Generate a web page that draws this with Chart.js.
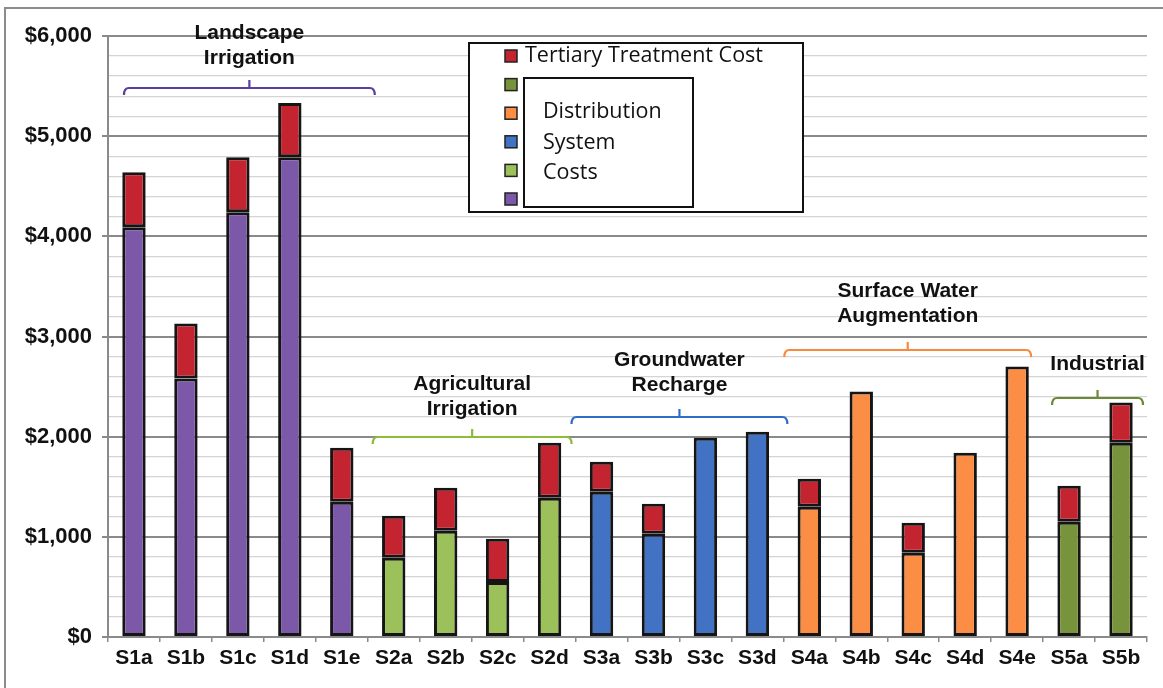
<!DOCTYPE html>
<html>
<head>
<meta charset="utf-8">
<script src="https://cdn.jsdelivr.net/npm/chart.js@4"></script>
<style>
  html, body { margin: 0; padding: 0; background: #fff; }
  #wrap { width: 1163px; height: 688px; position: relative; }
</style>
</head>
<body>
<div id="wrap"><canvas id="costChart" width="1163" height="688"></canvas></div>
<script>
// Scenario cost breakdown ($ per acre-foot)
const scenarios = ['S1a', 'S1b', 'S1c', 'S1d', 'S1e', 'S2a', 'S2b', 'S2c', 'S2d',
                   'S3a', 'S3b', 'S3c', 'S3d', 'S4a', 'S4b', 'S4c', 'S4d', 'S4e', 'S5a', 'S5b'];
const distributionCost = [4090, 2580, 4240, 4790, 1350, 790, 1060, 550, 1390,
                          1450, 1030, 1990, 2050, 1300, 2450, 840, 1840, 2700, 1150, 1940];
const tertiaryCost = [550, 550, 550, 540, 540, 420, 430, 430, 550,
                      300, 300, null, null, 280, null, 300, null, null, 360, 400];
const yTicks = [0, 1000, 2000, 3000, 4000, 5000, 6000];

// End use groups: label lines, first and last scenario index
const groupNames = [['Landscape', 'Irrigation'], ['Agricultural', 'Irrigation'],
                    ['Groundwater', 'Recharge'], ['Surface Water', 'Augmentation'], ['Industrial']];
const groupStart = [0, 5, 9, 13, 18];
const groupEnd = [4, 8, 12, 17, 19];

const legendLabels = ['Tertiary Treatment Cost', 'Distribution', 'System', 'Costs'];

const COLORS = {
  red: '#c42330',
  purple: '#7b58a8',
  green: '#9cc05a',
  blue: '#4172c4',
  orange: '#fb8d44',
  olive: '#77933c'
};
const groupColors = [COLORS.purple, COLORS.green, COLORS.blue, COLORS.orange, COLORS.olive];
const groupBracket = ['#5b3fa0', '#8dbb3a', '#2f6cc8', '#f98a3c', '#6b8a34'];

const barColors = scenarios.map((s, i) => {
  const g = groupStart.findIndex((st, k) => i >= st && i <= groupEnd[k]);
  return groupColors[g];
});

// bracket geometry (pixels): left/right offset from first/last bar centre, bracket y, label first line y
const bracketLayout = [
  { l: -10, r: 33, y: 88, ty: 33 },
  { l: -21, r: 22, y: 437, ty: 384 },
  { l: -30, r: 30, y: 417, ty: 360 },
  { l: -25, r: 14, y: 350, ty: 291 },
  { l: -17, r: 22, y: 398, ty: 364 }
];

const annotations = {
  id: 'annotations',
  beforeDraw(chart) {
    const ctx = chart.ctx;
    ctx.save();
    ctx.fillStyle = '#fff';
    ctx.fillRect(0, 0, chart.width, chart.height);
    // outer frame
    ctx.strokeStyle = '#8c8c8c';
    ctx.lineWidth = 2;
    ctx.beginPath();
    ctx.moveTo(5, 688);
    ctx.lineTo(5, 8);
    ctx.lineTo(1163, 8);
    ctx.stroke();
    ctx.restore();
  },
  afterDraw(chart) {
    const ctx = chart.ctx;
    const x = chart.scales.x;
    ctx.save();

    // group brackets and titles
    groupNames.forEach((lines, g) => {
      const b = bracketLayout[g];
      const x0 = x.getPixelForValue(groupStart[g]) + b.l;
      const x1 = x.getPixelForValue(groupEnd[g]) + b.r;
      const xm = (x0 + x1) / 2;
      ctx.strokeStyle = groupBracket[g];
      ctx.lineWidth = 2.2;
      ctx.beginPath();
      ctx.moveTo(x0, b.y + 7);
      ctx.quadraticCurveTo(x0, b.y, x0 + 5, b.y);
      ctx.lineTo(x1 - 5, b.y);
      ctx.quadraticCurveTo(x1, b.y, x1, b.y + 7);
      ctx.moveTo(xm, b.y);
      ctx.lineTo(xm, b.y - 8);
      ctx.stroke();

      ctx.fillStyle = '#111';
      ctx.font = 'bold 21px "Liberation Sans", Arial, sans-serif';
      ctx.textAlign = 'center';
      ctx.textBaseline = 'middle';
      lines.forEach((t, k) => ctx.fillText(t, xm, b.ty + k * 25.5));
    });

    // legend box
    ctx.fillStyle = '#fff';
    ctx.fillRect(469, 43, 334, 169);
    ctx.strokeStyle = '#111';
    ctx.lineWidth = 2;
    ctx.strokeRect(469, 43, 334, 169);
    const swatches = [COLORS.red, COLORS.olive, COLORS.orange, COLORS.blue, COLORS.green, COLORS.purple];
    swatches.forEach((c, k) => {
      const sy = 50 + k * 28.6;
      ctx.fillStyle = c;
      ctx.fillRect(505, sy, 12, 12);
      ctx.strokeStyle = '#222';
      ctx.lineWidth = 1.5;
      ctx.strokeRect(505, sy, 12, 12);
    });
    ctx.fillStyle = '#111';
    ctx.font = '21.5px "Open Sans", "Noto Sans", sans-serif';
    ctx.textAlign = 'left';
    ctx.textBaseline = 'middle';
    ctx.fillText(legendLabels[0], 525, 56);

    // inner label panel
    ctx.fillStyle = '#fff';
    ctx.fillRect(524, 78, 169, 129);
    ctx.strokeStyle = '#111';
    ctx.lineWidth = 2;
    ctx.strokeRect(524, 78, 169, 129);
    ctx.fillStyle = '#111';
    legendLabels.slice(1).forEach((t, k) => ctx.fillText(t, 543, 112 + k * 30.5));

    ctx.restore();
  }
};

new Chart(document.getElementById('costChart'), {
  type: 'bar',
  data: {
    labels: scenarios,
    datasets: [
      {
        label: 'Distribution System Costs',
        data: distributionCost,
        backgroundColor: barColors,
        borderColor: '#151515',
        borderWidth: 3,
        borderSkipped: false
      },
      {
        label: 'Tertiary Treatment Cost',
        data: tertiaryCost,
        backgroundColor: COLORS.red,
        borderColor: '#151515',
        borderWidth: 3,
        borderSkipped: false
      }
    ]
  },
  options: {
    responsive: false,
    animation: false,
    events: [],
    layout: { padding: { left: 0, right: 16, top: 36, bottom: 0 } },
    datasets: { bar: { barPercentage: 0.45, categoryPercentage: 1 } },
    plugins: { legend: { display: false }, tooltip: { enabled: false } },
    scales: {
      x: {
        stacked: true,
        afterFit: s => { s.height = 51; },
        grid: { drawOnChartArea: false, offset: true, tickLength: 5, color: '#8a8a8a', lineWidth: 1.5 },
        border: { color: '#8a8a8a', width: 2 },
        ticks: {
          color: '#111',
          padding: 4,
          font: { family: '"Liberation Sans", Arial, sans-serif', size: 21, weight: 'bold' }
        }
      },
      y: {
        stacked: true,
        min: 0,
        max: 6000,
        afterFit: s => { s.width = 108; },
        afterBuildTicks: s => {
          const t = [];
          for (let v = 0; v <= 6000; v += 200) t.push({ value: v });
          s.ticks = t;
        },
        grid: {
          tickLength: 6,
          color: c => (yTicks.includes(c.tick.value) ? '#8a8a8a' : '#d4d4d4'),
          tickColor: c => (yTicks.includes(c.tick.value) ? '#8a8a8a' : 'rgba(0,0,0,0)'),
          lineWidth: c => (yTicks.includes(c.tick.value) ? 2 : 1.2)
        },
        border: { color: '#8a8a8a', width: 2 },
        ticks: {
          autoSkip: false,
          color: '#111',
          padding: 10,
          font: { family: '"Liberation Sans", Arial, sans-serif', size: 22, weight: 'bold' },
          callback: v => (yTicks.includes(v) ? '$' + v.toLocaleString('en-US') : '')
        }
      }
    }
  },
  plugins: [annotations]
});
</script>
</body>
</html>
